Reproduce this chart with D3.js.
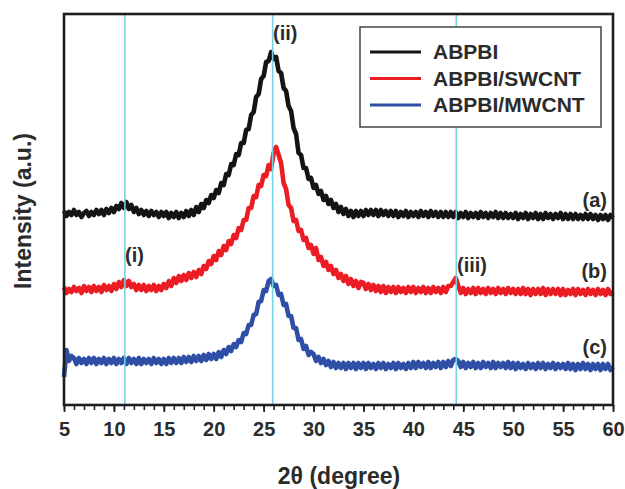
<!DOCTYPE html>
<html>
<head>
<meta charset="utf-8">
<script src="https://cdn.jsdelivr.net/npm/d3@7"></script>
<style>
  body { margin: 0; background: #fff; }
  svg text { font-family: "Liberation Sans", Arial, sans-serif; font-weight: bold; fill: #2b2b2b; }
</style>
</head>
<body>
<svg id="chart" width="625" height="489"></svg>
<script>
// 2theta grid, 0.25 degree steps from 5 to 60
let two_theta = d3.range(221).map(i => 5 + i * 0.25);

// (a) ABPBI
let abpbi = [
  194,189,193,190,195,190,193,188,192,194,189,193,190,195,191,195,190,196,192,197,
  193,199,196,202,197,203,196,200,193,197,191,195,190,194,189,194,190,193,188,193,
  189,193,187,192,188,193,187,192,188,194,189,195,190,198,193,201,197,205,202,210,
  207,215,212,222,220,231,230,241,240,251,250,262,262,275,276,290,293,308,311,326,
  329,343,344,353,346,348,334,332,317,314,299,294,277,271,252,250,237,237,226,227,
  217,220,211,214,205,209,201,205,197,201,193,198,191,196,189,194,188,194,189,194,
  189,195,190,195,190,195,189,195,190,194,189,194,189,194,188,193,189,194,188,193,
  189,193,188,194,189,193,188,194,189,193,188,193,188,193,188,193,188,193,187,192,
  188,193,187,192,188,192,187,193,188,192,187,192,188,193,187,192,187,192,187,191,
  187,192,186,191,187,192,186,191,187,192,186,191,186,192,187,191,186,191,187,192,
  186,191,186,191,186,191,186,190,186,191,186,191,186,190,185,190,186,190,185,190,
  187];

// (b) ABPBI/SWCNT
let abpbi_swcnt = [
  118,112,116,113,118,114,117,112,119,114,118,113,119,114,118,113,120,115,119,114,
  121,116,123,118,125,119,124,118,121,115,120,115,120,114,119,115,120,114,119,115,
  121,117,124,119,127,122,129,124,130,125,132,127,133,128,135,131,139,136,144,141,
  149,145,154,150,159,155,164,161,170,167,177,175,185,185,197,197,209,208,220,219,
  230,229,240,236,252,258,250,242,222,216,200,197,184,185,174,175,165,167,157,160,
  151,157,145,148,139,143,135,139,131,135,127,131,124,129,121,126,119,124,117,123,
  122,116,121,115,120,114,119,113,119,112,118,113,118,112,118,113,117,112,118,113,
  118,112,117,113,118,112,117,112,118,113,117,112,118,113,119,119,123,127,119,112,
  117,111,116,112,117,111,117,112,116,111,117,112,116,111,117,112,116,111,117,112,
  116,111,116,111,117,111,116,110,116,111,116,111,117,110,116,111,116,111,116,110,
  116,110,115,111,116,110,116,111,115,110,116,111,115,110,116,111,115,110,116,111,
  113];

// (c) ABPBI/MWCNT
let abpbi_mwcnt = [
  28,55,44,49,47,41,47,42,46,41,47,42,47,41,46,42,47,41,46,42,
  47,41,46,42,47,41,47,42,46,41,47,41,46,42,46,41,47,42,46,41,
  46,41,47,42,47,42,47,42,48,43,48,43,49,44,49,44,50,45,51,46,
  51,46,53,48,55,51,58,54,61,58,65,63,72,71,80,80,90,91,103,104,
  115,114,124,126,119,120,110,111,100,101,89,89,77,77,65,66,56,59,50,53,
  51,44,48,42,46,40,44,38,43,37,42,37,42,36,42,37,42,36,42,37,
  42,36,42,37,41,36,42,37,42,36,41,37,42,36,42,37,41,36,42,37,
  43,37,43,38,42,37,43,37,42,38,43,37,43,38,44,39,45,46,44,38,
  43,37,42,38,43,37,42,37,43,38,42,37,43,37,42,38,42,37,43,37,
  42,36,42,37,41,36,42,37,41,36,42,37,42,36,41,37,42,36,41,37,
  41,36,42,36,41,35,41,36,42,36,41,35,41,36,41,35,41,36,41,35,
  38];

let series_names = ['ABPBI', 'ABPBI/SWCNT', 'ABPBI/MWCNT'];
let series_colors = ['#141414', '#ec1c24', '#2f4ea5'];
let series_tags = ['(a)', '(b)', '(c)'];
let peak_positions = [11.1, 25.9, 44.3];
let peak_tags = ['(i)', '(ii)', '(iii)'];
let x_ticks = d3.range(5, 61, 5);
let x_minor = d3.range(5, 61, 1);

let margin = {left: 64, right: 12, top: 14, bottom: 84};
let width = 625 - margin.left - margin.right,
    height = 489 - margin.top - margin.bottom;

let svg = d3.select('#chart');
let g = svg.append('g')
  .attr('transform', `translate(${margin.left},${margin.top})`);

let x = d3.scaleLinear().domain([5, 60]).range([0, width]);
let y = d3.scaleLinear().domain([0, 391]).range([height, 0]);

// curves
let line = d3.line()
  .x((d, i) => x(two_theta[i]))
  .y(d => y(d));

[abpbi, abpbi_swcnt, abpbi_mwcnt].forEach((s, k) => {
  g.append('path')
    .datum(s)
    .attr('d', line)
    .attr('fill', 'none')
    .attr('stroke', series_colors[k])
    .attr('stroke-width', 4.6)
    .attr('stroke-linejoin', 'round');
});

// reference lines for peaks (i), (ii), (iii)
g.selectAll('.peak-line')
  .data(peak_positions)
  .enter().append('line')
  .attr('class', 'peak-line')
  .attr('x1', d => x(d))
  .attr('x2', d => x(d))
  .attr('y1', 0)
  .attr('y2', height)
  .attr('stroke', '#74d3e2')
  .attr('stroke-width', 1.6);

// x axis, major + minor ticks
g.append('g')
  .attr('transform', `translate(0,${height})`)
  .call(d3.axisBottom(x).tickValues(x_minor).tickSize(5).tickFormat(''))
  .call(a => a.select('.domain').remove())
  .call(a => a.selectAll('line').attr('stroke', '#222').attr('stroke-width', 1.6));

let x_axis = g.append('g')
  .attr('transform', `translate(0,${height})`)
  .call(d3.axisBottom(x).tickValues(x_ticks).tickSize(7).tickPadding(10));
x_axis.select('.domain').remove();
x_axis.selectAll('line').attr('stroke', '#222').attr('stroke-width', 1.8);
x_axis.selectAll('text')
  .style('font-size', '20px')
  .attr('fill', '#2b2b2b');

// frame
g.append('rect')
  .attr('x', 0).attr('y', 0)
  .attr('width', width).attr('height', height)
  .attr('fill', 'none')
  .attr('stroke', '#1e1e1e')
  .attr('stroke-width', 2.6);

// legend
let legend = g.append('g')
  .attr('transform', `translate(${360 - margin.left},${27 - margin.top})`);
legend.append('rect')
  .attr('width', 241).attr('height', 100)
  .attr('fill', '#fff')
  .attr('stroke', '#444')
  .attr('stroke-width', 1.5);
let rows = legend.selectAll('.legend-row')
  .data(series_names)
  .enter().append('g')
  .attr('class', 'legend-row')
  .attr('transform', (d, i) => `translate(0,${25 + i * 26.5})`);
rows.append('line')
  .attr('x1', 10).attr('x2', 61)
  .attr('stroke', (d, i) => series_colors[i])
  .attr('stroke-width', 3);
rows.append('text')
  .attr('x', 73).attr('y', 7)
  .style('font-size', '21px')
  .text(d => d);

// curve tags (a), (b), (c)
let tag_y = [207, 278, 354];
g.selectAll('.tag')
  .data(series_tags)
  .enter().append('text')
  .attr('class', 'tag')
  .attr('x', 607 - margin.left)
  .attr('y', (d, i) => tag_y[i] - margin.top)
  .attr('text-anchor', 'end')
  .style('font-size', '20px')
  .text(d => d);

// peak tags
let peak_tag_pos = [[125, 262], [273, 40], [457, 272]];
g.selectAll('.peak-tag')
  .data(peak_tags)
  .enter().append('text')
  .attr('class', 'peak-tag')
  .attr('x', (d, i) => peak_tag_pos[i][0] - margin.left)
  .attr('y', (d, i) => peak_tag_pos[i][1] - margin.top)
  .style('font-size', '20px')
  .text(d => d);

// axis titles
svg.append('text')
  .attr('x', 339).attr('y', 484)
  .attr('text-anchor', 'middle')
  .style('font-size', '23px')
  .text('2θ (degree)');

svg.append('text')
  .attr('transform', 'translate(31,211) rotate(-90)')
  .attr('text-anchor', 'middle')
  .style('font-size', '23px')
  .text('Intensity (a.u.)');
</script>
</body>
</html>
